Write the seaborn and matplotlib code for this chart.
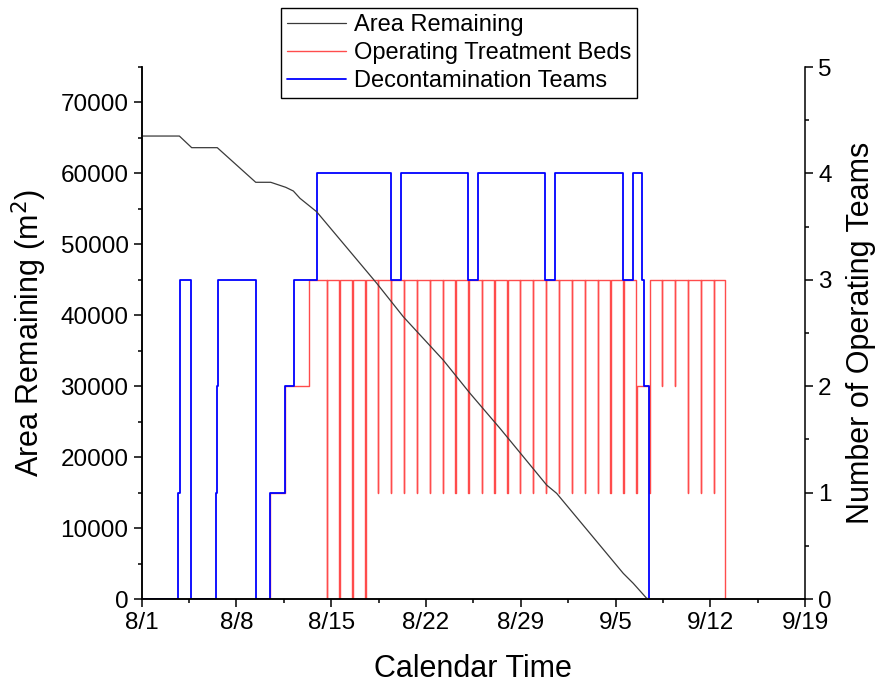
import pandas as pd
import seaborn as sns
import matplotlib.pyplot as plt
from matplotlib.ticker import MultipleLocator

# x values are days since 8/1
# Area remaining (m2)
area_day = [0, 2.78, 3.69, 5.58, 8.42, 9.53, 10.64, 11.20, 11.69, 12.92, 17.36, 19.32,
            22.27, 24.25, 26.46, 29.91, 30.65, 35.57, 36.31, 37.30, 37.54]
area_m2 = [65270, 65270, 63630, 63630, 58750, 58750, 58040, 57520, 56490, 54600, 44510, 39800,
           33690, 29000, 24070, 16070, 14900, 3620, 2210, 100, 0]

# Decontamination teams (step changes)
team_day = [0, 2.70, 2.81, 2.85, 3.64, 5.51, 5.58, 5.64, 8.42, 9.48, 10.58, 11.25, 12.92,
            18.39, 19.13, 24.10, 24.82, 29.81, 30.55, 35.57, 36.31, 36.97, 37.10, 37.49]
team_n = [0, 1, 2, 3, 0, 1, 2, 3, 0, 1, 2, 3, 4, 3, 4, 3, 4, 3, 4, 3, 4, 3, 2, 0]

# Operating treatment beds: ramp up, then short dips, then shut down
bed_ramp_day = [0, 9.48, 10.58, 12.38]
bed_ramp_n = [0, 1, 2, 3]
bed_dip_day = [13.66, 14.59, 15.55, 16.51, 17.47, 18.41, 19.37, 20.31, 21.27, 22.23, 23.16,
               24.12, 25.11, 26.04, 27.00, 27.94, 28.90, 29.86, 30.82, 31.78, 32.72, 33.68,
               34.61, 35.57, 36.53, 37.49, 38.43, 39.39, 40.35, 41.28, 42.25]
bed_dip_low = [0, 0, 0, 0, 1, 1, 1, 1, 1, 1, 1, 1, 1, 1, 1, 1, 1, 1, 1, 1, 1, 1,
               1, 1, 1, 1, 2, 2, 1, 1, 1]
bed_dip_back = [3] * 24 + [2, 3, 3, 3, 3, 3, 3]
bed_end_day = 43.10

xtick_labels = ["8/1", "8/8", "8/15", "8/22", "8/29", "9/5", "9/12", "9/19"]

# build the step table for the beds
bd, bn = list(bed_ramp_day), list(bed_ramp_n)
for d, lo, back in zip(bed_dip_day, bed_dip_low, bed_dip_back):
    bd += [d, d + 0.02]
    bn += [lo, back]
bd.append(bed_end_day)
bn.append(0)

area = pd.DataFrame({"day": area_day, "value": area_m2})
teams = pd.DataFrame({"day": team_day, "value": team_n})
beds = pd.DataFrame({"day": bd, "value": bn})

sns.set_style("ticks")
plt.rcParams["font.family"] = ["Liberation Sans", "DejaVu Sans"]
plt.rcParams["axes.linewidth"] = 1.1
for k in ["text.color", "axes.labelcolor", "xtick.color", "ytick.color", "axes.edgecolor"]:
    plt.rcParams[k] = "black"

fig = plt.figure(figsize=(8.76, 6.86), dpi=100)
ax = fig.add_axes([0.1618, 0.1268, 0.919 - 0.1618, 0.9023 - 0.1268])
ax2 = ax.twinx()

sns.lineplot(data=beds, x="day", y="value", ax=ax2, estimator=None, sort=False,
             drawstyle="steps-post", color="red", alpha=0.7, lw=1.0,
             label="Operating Treatment Beds", legend=False)
sns.lineplot(data=teams, x="day", y="value", ax=ax2, estimator=None, sort=False,
             drawstyle="steps-post", color="blue", lw=1.3,
             label="Decontamination Teams", legend=False)
sns.lineplot(data=area, x="day", y="value", ax=ax, estimator=None, sort=False,
             color="#3a3a3a", lw=0.9, label="Area Remaining", legend=False)

ax.set_zorder(ax2.get_zorder() + 1)
ax.patch.set_visible(False)

ax.set_xlim(0, 49)
ax.set_ylim(0, 75000)
ax2.set_ylim(0, 5)
ax.set_xticks(range(0, 50, 7))
ax.set_xticklabels(xtick_labels)
ax.xaxis.set_minor_locator(MultipleLocator(3.5))
ax.yaxis.set_major_locator(MultipleLocator(10000))
ax.yaxis.set_minor_locator(MultipleLocator(5000))
ax2.yaxis.set_major_locator(MultipleLocator(1))
ax2.yaxis.set_minor_locator(MultipleLocator(0.5))

for a in (ax, ax2):
    a.spines["top"].set_visible(False)
    a.tick_params(which="major", length=6, width=1.1, labelsize=17.5, direction="out")
    a.tick_params(which="minor", length=3, width=1.1, direction="out")
ax.spines["right"].set_visible(False)

ax.set_xlabel("Calendar Time", fontsize=22, labelpad=14)
ax.set_ylabel("Area Remaining (m$^2$)", fontsize=22, labelpad=8)
ax2.set_ylabel("Number of Operating Teams", fontsize=22, labelpad=10)

h1, l1 = ax.get_legend_handles_labels()
h2, l2 = ax2.get_legend_handles_labels()
handles = h1 + h2
labels = l1 + l2
leg = fig.legend(handles, labels, loc="upper center", bbox_to_anchor=(0.524, 0.988),
                 fontsize=17, frameon=True, fancybox=False, framealpha=1,
                 edgecolor="black", handlelength=2.5, handletextpad=0.35,
                 labelspacing=0.25, borderpad=0.25, borderaxespad=0)
leg.get_frame().set_linewidth(1.0)
leg.set_zorder(10)

fig.savefig("out.png", dpi=100)
